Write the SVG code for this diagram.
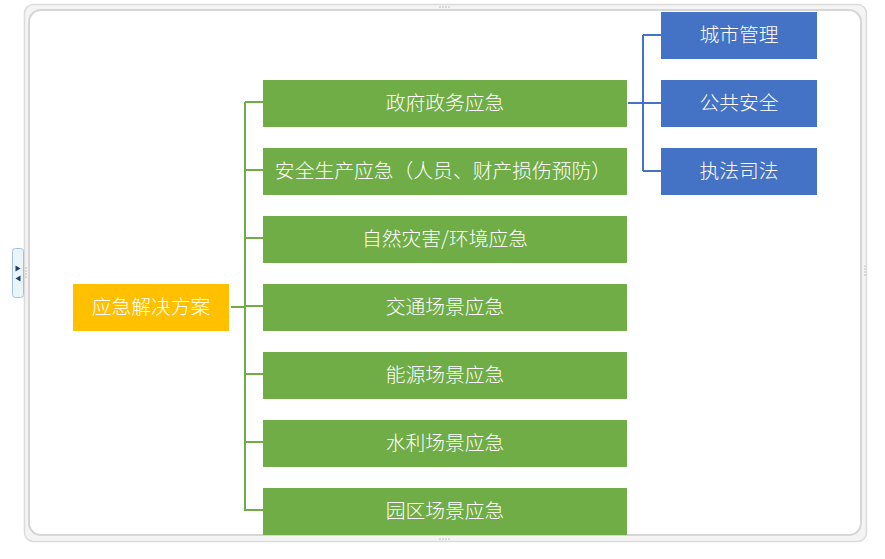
<svg xmlns="http://www.w3.org/2000/svg" width="885" height="559" viewBox="0 0 885 559">
<style>
.t{font-family:"Noto Sans CJK SC","Liberation Sans",sans-serif;font-size:19.8px;fill:#ffffff;text-anchor:middle;font-weight:300}
.g{fill:#70AD47}
.b{fill:#4472C4}
.lg{stroke:#70AD47;stroke-width:2;fill:none}
.lb{stroke:#4472C4;stroke-width:2;fill:none}
.dot{fill:#b8b8b8}
</style>
<rect width="885" height="559" fill="#ffffff"/>
<g id="frame">
<rect x="24.5" y="4.5" width="842" height="537" rx="9" fill="#f4f4f4" stroke="#dcdcdc" stroke-width="1.5"/>
<rect x="29" y="10" width="832" height="525" rx="12" fill="#ffffff" stroke="#d6d6d6" stroke-width="2"/>
<circle class="dot" cx="440" cy="7" r="0.8"/><circle class="dot" cx="443" cy="7" r="0.8"/><circle class="dot" cx="446" cy="7" r="0.8"/><circle class="dot" cx="449" cy="7" r="0.8"/>
<circle class="dot" cx="440" cy="539" r="0.8"/><circle class="dot" cx="443" cy="539" r="0.8"/><circle class="dot" cx="446" cy="539" r="0.8"/><circle class="dot" cx="449" cy="539" r="0.8"/>
<circle class="dot" cx="865" cy="266" r="0.8"/><circle class="dot" cx="865" cy="269" r="0.8"/><circle class="dot" cx="865" cy="272" r="0.8"/><circle class="dot" cx="865" cy="275" r="0.8"/>
<circle class="dot" cx="26" cy="268" r="0.8"/><circle class="dot" cx="26" cy="271" r="0.8"/><circle class="dot" cx="26" cy="274" r="0.8"/><circle class="dot" cx="26" cy="277" r="0.8"/>
<rect x="12.5" y="248.5" width="11" height="49" rx="3" fill="#eaf4fb" stroke="#9fc3dd" stroke-width="1"/>
<polygon points="15.5,265.5 20.5,268.5 15.5,271.5" fill="#1f3f6a"/>
<polygon points="20.5,275.5 15.5,278.5 20.5,281.5" fill="#1f3f6a"/>
</g>
<g id="connectors">
<path class="lg" d="M231 307 H245 M245 102 V511 M245 102 H263 M245 170 H263 M245 238 H263 M245 306 H263 M245 374 H263 M245 442 H263 M245 510 H263"/>
<path class="lb" d="M628 103 H661 M643 35 V171 M643 35 H661 M643 171 H661"/>
</g>
<g id="root"><rect x="73" y="284" width="156" height="47" fill="#FFC000"/><text class="t" x="151" y="314">应急解决方案</text></g>
<g id="n1"><rect class="g" x="263" y="80" width="364" height="47"/><text class="t" x="445" y="110">政府政务应急</text></g>
<g id="n2"><rect class="g" x="263" y="148" width="364" height="47"/><text class="t" x="443" y="178">安全生产应急（人员、财产损伤预防）</text></g>
<g id="n3"><rect class="g" x="263" y="216" width="364" height="47"/><text class="t" x="445" y="246">自然灾害/环境应急</text></g>
<g id="n4"><rect class="g" x="263" y="284" width="364" height="47"/><text class="t" x="445" y="314">交通场景应急</text></g>
<g id="n5"><rect class="g" x="263" y="352" width="364" height="47"/><text class="t" x="445" y="382">能源场景应急</text></g>
<g id="n6"><rect class="g" x="263" y="420" width="364" height="47"/><text class="t" x="445" y="450">水利场景应急</text></g>
<g id="n7"><rect class="g" x="263" y="488" width="364" height="47"/><text class="t" x="445" y="518">园区场景应急</text></g>
<g id="b1"><rect class="b" x="661" y="12" width="156" height="47"/><text class="t" x="739" y="42">城市管理</text></g>
<g id="b2"><rect class="b" x="661" y="80" width="156" height="47"/><text class="t" x="739" y="110">公共安全</text></g>
<g id="b3"><rect class="b" x="661" y="148" width="156" height="47"/><text class="t" x="739" y="178">执法司法</text></g>
</svg>
